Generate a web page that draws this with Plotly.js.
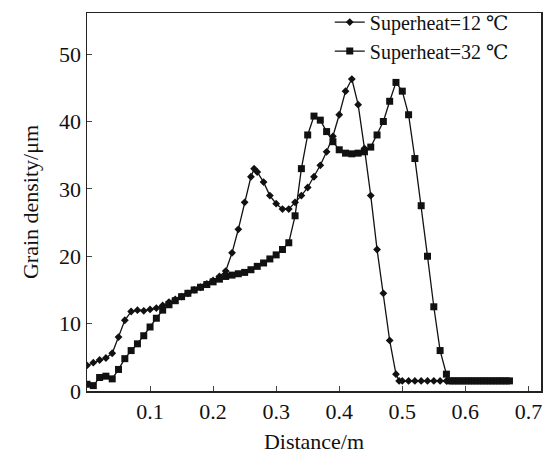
<!DOCTYPE html>
<html><head><meta charset="utf-8">
<script src="https://cdn.plot.ly/plotly-3.0.1.min.js"></script>
<style>body{margin:0;background:#fff}#c{width:545px;height:455px}</style>
</head><body><div id="c"></div>
<script>
const x12 = [0,0.01,0.02,0.03,0.04,0.05,0.06,0.07,0.08,0.09,0.10,0.11,0.12,0.13,0.14,0.15,0.16,0.17,0.18,0.19,0.20,0.21,0.22,0.23,0.24,0.25,0.26,0.265,0.27,0.28,0.29,0.30,0.31,0.32,0.33,0.34,0.35,0.36,0.37,0.38,0.39,0.40,0.41,0.42,0.43,0.44,0.45,0.46,0.47,0.48,0.49,0.495,0.50,0.51,0.52,0.53,0.54,0.55,0.56,0.57];
const y12 = [3.8,4.2,4.6,4.9,5.6,8.0,10.5,11.8,12.0,11.9,12.1,12.3,12.7,13.2,13.6,14.0,14.5,15.0,15.4,15.9,16.4,17.0,17.8,20.5,24.0,28.0,31.8,33.0,32.5,31.0,29.0,27.8,27.0,27.0,28.0,29.0,30.2,31.8,33.5,35.5,37.8,41.0,44.5,46.3,42.5,36.0,29.0,21.0,14.5,7.5,2.5,1.5,1.5,1.5,1.5,1.5,1.5,1.5,1.5,1.5];
const x32 = [0,0.01,0.02,0.03,0.04,0.05,0.06,0.07,0.08,0.09,0.10,0.11,0.12,0.13,0.14,0.15,0.16,0.17,0.18,0.19,0.20,0.21,0.22,0.23,0.24,0.25,0.26,0.27,0.28,0.29,0.30,0.31,0.32,0.33,0.34,0.35,0.36,0.37,0.38,0.39,0.40,0.41,0.42,0.43,0.44,0.45,0.46,0.47,0.48,0.49,0.50,0.51,0.52,0.53,0.54,0.55,0.56,0.57,0.575,0.58,0.585,0.59,0.595,0.60,0.605,0.61,0.615,0.62,0.625,0.63,0.635,0.64,0.645,0.65,0.655,0.66,0.665,0.67];
const y32 = [1.0,0.8,2.0,2.2,1.8,3.2,4.8,6.0,7.0,8.2,9.5,10.8,12.0,12.8,13.4,14.0,14.5,15.0,15.4,15.8,16.2,16.6,17.0,17.2,17.4,17.6,18.0,18.5,19.0,19.6,20.2,21.0,22.0,26.0,33.0,38.0,40.8,40.2,38.5,37.0,35.8,35.3,35.2,35.3,35.5,36.2,38.0,40.0,43.0,45.8,44.5,41.0,34.5,27.5,20.0,12.5,6.0,2.5,1.5,1.5,1.5,1.5,1.5,1.5,1.5,1.5,1.5,1.5,1.5,1.5,1.5,1.5,1.5,1.5,1.5,1.5,1.5,1.5];
const xTicks = [0.1,0.2,0.3,0.4,0.5,0.6,0.7];
const yTicks = [0,10,20,30,40,50];
const names = ['Superheat=12 ℃','Superheat=32 ℃'];

const fam = '"Liberation Serif", "DejaVu Serif", serif';
const f = s => ({family:fam, size:s, color:'#111'});
const data = [
  {x:x12, y:y12, name:names[0], mode:'lines+markers', line:{color:'#111',width:1.3},
   marker:{symbol:'diamond',size:6,color:'#111'}},
  {x:x32, y:y32, name:names[1], mode:'lines+markers', line:{color:'#111',width:1.3},
   marker:{symbol:'square',size:7,color:'#111'}}
];
const layout = {
  width:545, height:455,
  margin:{l:87,r:4,t:12,b:64},
  paper_bgcolor:'#fff', plot_bgcolor:'#fff',
  font:f(22),
  showlegend:true,
  legend:{x:0.94,y:1.025,xanchor:'right',yanchor:'top',bgcolor:'rgba(0,0,0,0)',
          font:f(20), tracegroupgap:0, itemwidth:30},
  xaxis:{range:[0,0.72], tickvals:xTicks, ticktext:xTicks.map(String), ticks:'inside', ticklen:5,
         ticklabeloverflow:'allow',
         showline:true, mirror:true, linecolor:'#222', linewidth:1.5, showgrid:false, zeroline:false,
         tickfont:f(22),
         title:{text:'Distance/m', font:f(22), standoff:10}},
  yaxis:{range:[0,56.1], tickvals:yTicks, ticktext:yTicks.map(String), ticks:'inside', ticklen:5,
         showline:true, mirror:true, linecolor:'#222', linewidth:1.5, showgrid:false, zeroline:false,
         tickfont:f(22),
         title:{text:'Grain density/μm', font:f(22), standoff:14}}
};
Plotly.newPlot('c', data, layout, {displayModeBar:false, staticPlot:true});
</script></body></html>
